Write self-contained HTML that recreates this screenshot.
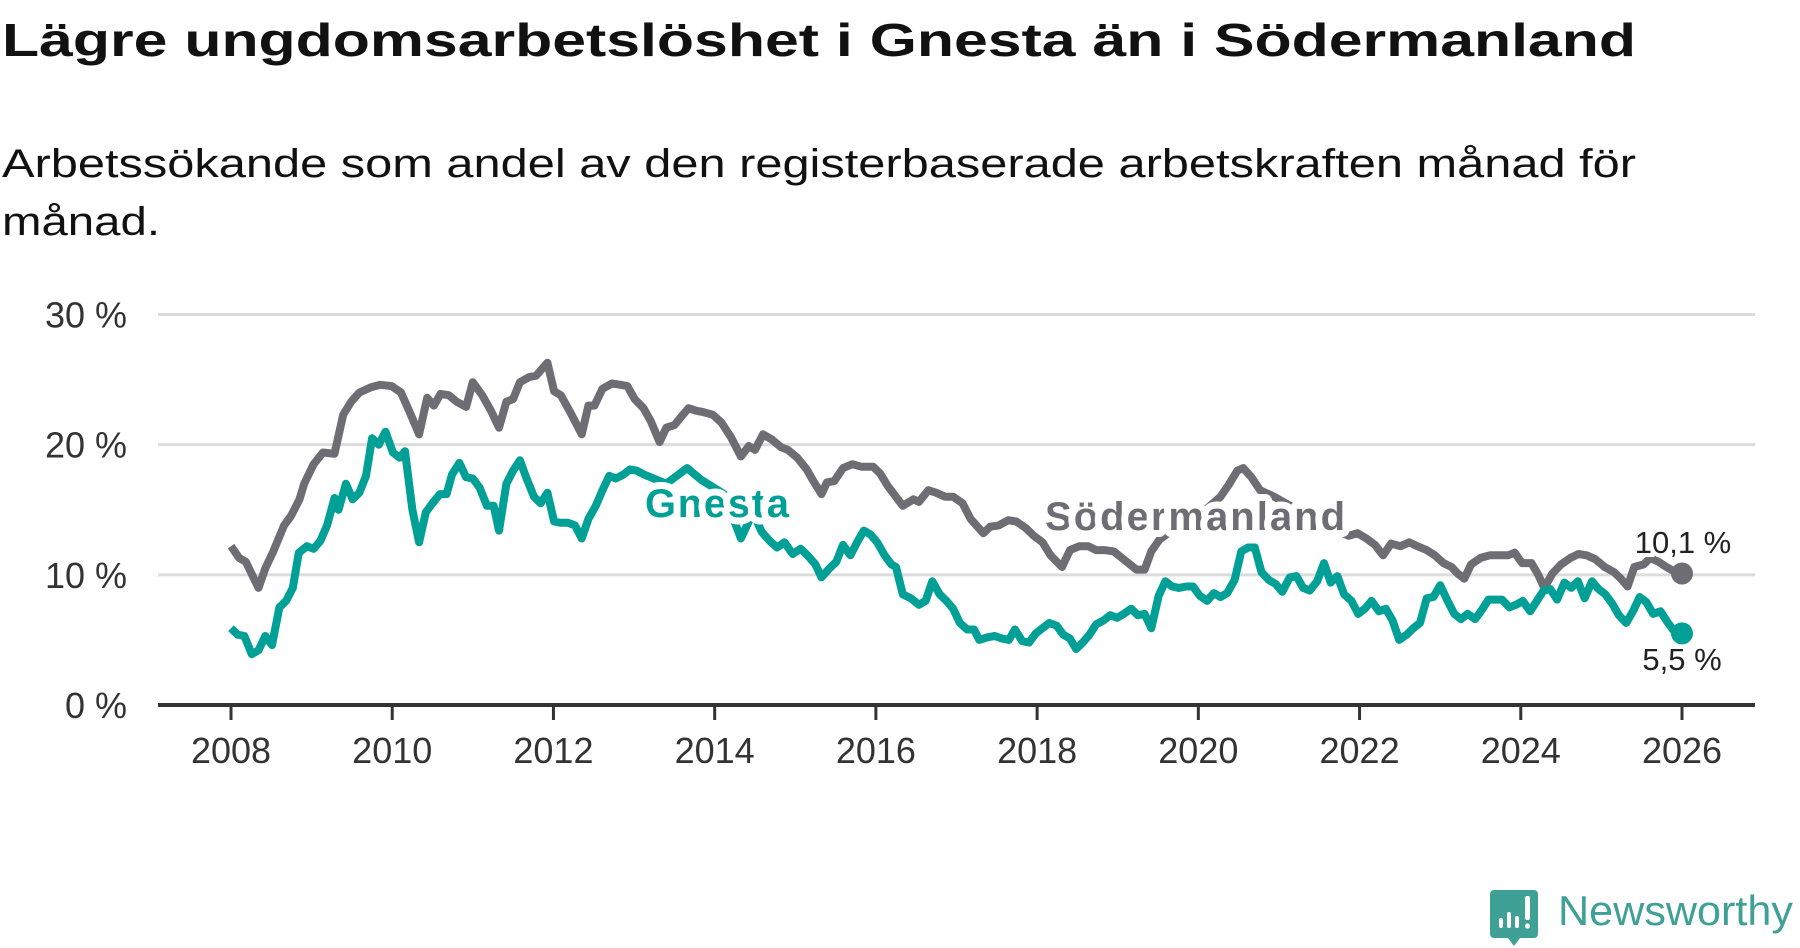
<!DOCTYPE html>
<html><head><meta charset="utf-8">
<style>
html,body{margin:0;padding:0;background:#fff;width:1800px;height:948px;overflow:hidden}
svg{display:block}
text{font-family:"Liberation Sans",sans-serif}
</style></head>
<body>
<svg id="chart" width="1800" height="948" viewBox="0 0 1800 948" xmlns="http://www.w3.org/2000/svg">
<text x="2" y="56" font-size="46" font-weight="bold" fill="#111" textLength="1634" lengthAdjust="spacingAndGlyphs">Lägre ungdomsarbetslöshet i Gnesta än i Södermanland</text>
<text x="2" y="177" font-size="40" fill="#111" textLength="1634" lengthAdjust="spacingAndGlyphs">Arbetssökande som andel av den registerbaserade arbetskraften månad för</text>
<text x="2" y="235" font-size="40" fill="#111" textLength="158" lengthAdjust="spacingAndGlyphs">månad.</text>
<g id="grid"></g>
<g id="series"></g>
<g id="labels"></g>
<g>
<path d="M1494 890 h40 a4 4 0 0 1 4 4 v40 a4 4 0 0 1 -4 4 h-14 l-6 8 l-6 -8 h-14 a4 4 0 0 1 -4 -4 v-40 a4 4 0 0 1 4 -4z" fill="#3fa096"/>
<rect x="1499" y="918" width="4" height="10" rx="2" fill="#fff"/>
<rect x="1507" y="912" width="4" height="16" rx="2" fill="#fff"/>
<rect x="1515" y="916" width="4" height="12" rx="2" fill="#fff"/>
<rect x="1525" y="896" width="5" height="24" rx="2" fill="#fff"/>
<circle cx="1527.5" cy="926" r="2.6" fill="#fff"/>
<text x="1558" y="925" font-size="42" fill="#3fa096" textLength="235" lengthAdjust="spacingAndGlyphs">Newsworthy</text>
</g>
</svg>
<script>
const yTicks = [0, 10, 20, 30];
const yTickLabels = ["0 %", "10 %", "20 %", "30 %"];
const xTicks = [2008, 2010, 2012, 2014, 2016, 2018, 2020, 2022, 2024, 2026];
// month index since Jan 2008
const sodMonths = [0,1.2,2.2,4.1,5.1,6.3,7.9,8.9,10.2,10.9,12.3,13.7,15.4,16.7,17.9,19.1,20.8,22.2,23.9,25.3,26.6,28.0,29.2,30.2,31.2,32.4,33.6,35.0,36.0,37.4,38.7,39.9,41.0,42.0,43.0,44.4,45.4,47.1,48.1,49.1,50.5,51.5,52.2,53.2,54.1,55.3,56.7,58.0,59.0,60.1,61.4,62.5,63.8,64.8,66.0,67.1,68.1,69.3,70.3,71.7,73.0,74.4,75.9,77.1,78.0,79.2,80.5,81.9,82.9,84.3,85.7,86.7,87.9,88.7,89.8,91.1,92.5,93.9,95.6,96.6,97.8,100.0,101.6,102.4,103.8,105.0,106.3,107.5,108.9,110.1,112.0,113.0,114.3,115.7,116.9,118.3,119.5,120.8,122.0,123.7,124.9,126.3,127.6,128.8,130.0,131.4,133.1,134.8,136.0,137.0,138.2,141.6,145.1,147.3,148.5,149.8,150.7,151.9,153.2,155.3,158.7,162.1,166.4,167.7,169.0,170.3,171.5,172.7,174.1,175.4,176.6,178.0,179.2,180.5,181.7,182.6,183.6,184.6,186.0,187.4,188.7,190.1,191.1,192.2,193.6,194.6,195.5,196.7,198.0,199.4,200.6,201.8,203.1,204.5,205.9,206.9,207.9,208.9,210.3,211.3,212.5,213.7,214.7,216.0];
const sodValues = [12.2,11.3,11.0,9.0,10.5,11.8,13.8,14.5,15.8,17.0,18.5,19.4,19.3,22.3,23.3,24.0,24.4,24.6,24.5,24.0,22.5,20.8,23.6,23.0,23.9,23.8,23.3,22.9,24.8,23.8,22.6,21.3,23.3,23.5,24.8,25.2,25.3,26.3,24.1,23.8,22.5,21.5,20.8,23.0,23.0,24.3,24.7,24.6,24.5,23.5,22.8,21.8,20.2,21.3,21.5,22.2,22.8,22.6,22.5,22.3,21.7,20.6,19.1,19.9,19.6,20.8,20.4,19.8,19.6,19.0,18.1,17.2,16.2,17.1,17.2,18.2,18.5,18.3,18.3,17.8,16.8,15.3,15.8,15.6,16.5,16.3,16.0,16.0,15.5,14.3,13.2,13.7,13.8,14.2,14.1,13.6,13.0,12.5,11.5,10.6,11.9,12.2,12.2,11.9,11.9,11.8,11.1,10.4,10.4,11.8,12.7,14.0,15.0,16.0,16.9,18.0,18.2,17.5,16.5,16.0,15.0,14.0,13.0,13.2,12.8,12.3,11.5,12.4,12.2,12.5,12.2,11.9,11.5,10.9,10.6,10.1,9.7,10.8,11.3,11.5,11.5,11.5,11.7,10.9,10.9,10.0,9.0,10.1,10.8,11.3,11.6,11.5,11.2,10.6,10.2,9.7,9.1,10.6,10.8,11.3,11.0,10.6,10.3,10.1];
const gneMonths = [0,1.0,2.0,3.1,4.1,5.1,6.1,7.2,8.2,9.2,10.1,11.3,12.3,13.3,14.3,15.4,16.0,17.1,18.1,19.1,20.1,21.0,22.0,23.0,24.1,25.1,25.9,27.0,28.0,29.0,30.0,31.1,32.1,32.9,34.0,35.0,36.0,37.0,38.1,39.1,39.9,41.0,42.0,43.0,44.0,45.1,46.1,47.1,48.1,49.1,50.2,51.2,52.2,53.2,54.3,55.3,56.3,57.3,58.4,59.4,60.4,61.5,64.8,67.9,70.0,73.4,75.9,77.7,79.0,80.2,81.3,82.4,83.6,84.8,86.0,87.0,87.9,89.1,90.1,91.1,92.2,93.2,94.2,95.2,96.2,97.3,98.3,99.0,100.0,101.2,102.4,103.4,104.4,105.5,106.5,107.5,108.5,109.6,110.6,111.4,112.6,113.7,114.8,115.8,116.7,117.8,118.8,119.8,120.8,121.8,122.9,123.9,124.9,125.8,126.8,127.8,128.8,129.9,130.9,131.9,132.9,134.0,135.0,136.0,137.0,138.1,139.1,140.1,141.1,142.2,143.2,144.2,145.3,146.3,147.3,148.3,149.4,150.4,151.4,152.4,153.4,154.5,155.5,156.5,157.6,158.6,159.6,160.6,161.7,162.7,163.7,164.7,165.7,166.8,167.8,168.8,169.8,170.9,171.9,172.9,173.9,175.0,176.0,177.0,178.0,179.0,180.0,181.1,182.1,183.1,184.1,185.2,186.2,187.2,188.2,189.2,190.3,191.3,192.3,193.4,194.4,195.4,196.4,197.4,198.5,199.5,200.5,201.5,202.6,203.6,204.6,205.6,206.6,207.7,208.7,209.7,210.7,211.7,212.8,213.8,214.8,216.0];
const gneValues = [5.9,5.4,5.3,3.9,4.2,5.3,4.6,7.5,8.0,9.0,11.7,12.2,12.0,12.6,13.8,15.9,15.0,17.0,15.8,16.3,17.6,20.5,20.0,21.0,19.4,19.0,19.5,15.0,12.5,14.8,15.5,16.2,16.2,17.7,18.6,17.5,17.4,16.7,15.3,15.3,13.4,17.0,18.0,18.8,17.4,16.0,15.5,16.3,14.1,14.0,14.0,13.8,12.8,14.3,15.3,16.5,17.6,17.4,17.7,18.1,18.0,17.7,17.0,18.2,17.3,16.2,12.8,14.8,13.3,12.6,12.1,12.5,11.6,12.0,11.4,10.8,9.8,10.5,11.0,12.3,11.5,12.5,13.4,13.1,12.5,11.5,10.8,10.6,8.5,8.2,7.7,8.0,9.5,8.5,8.0,7.4,6.3,5.8,5.8,5.0,5.2,5.3,5.1,5.0,5.8,4.9,4.8,5.5,5.9,6.3,6.1,5.4,5.1,4.3,4.8,5.4,6.2,6.5,6.9,6.7,7.0,7.4,6.9,7.0,5.9,8.4,9.5,9.1,9.0,9.1,9.1,8.4,8.0,8.6,8.3,8.6,9.6,11.8,12.1,12.1,10.2,9.6,9.3,8.7,9.8,9.9,9.0,8.8,9.5,10.9,9.4,9.9,8.5,8.0,7.0,7.4,8.0,7.2,7.4,6.5,5.0,5.4,5.9,6.3,8.2,8.3,9.2,8.0,7.0,6.6,7.0,6.6,7.3,8.1,8.1,8.1,7.5,7.7,8.0,7.2,8.0,8.8,8.9,8.1,9.4,9.0,9.5,8.2,9.5,8.9,8.5,7.8,6.9,6.3,7.2,8.3,7.9,7.0,7.2,6.4,5.7,5.5];

const NS = "http://www.w3.org/2000/svg";
const X0 = 231, X1 = 1682, YZ = 705, YT = 314.5;
function xScale(year) { return X0 + (year - 2008) / 18 * (X1 - X0); }
function xMonth(m) { return xScale(2008 + m / 12); }
function yScale(v) { return YZ - v / 30 * (YZ - YT); }
function mk(tag, attrs, parent) {
  const e = document.createElementNS(NS, tag);
  for (const k in attrs) e.setAttribute(k, attrs[k]);
  parent.appendChild(e); return e;
}
const grid = document.getElementById('grid');
yTicks.forEach((t, i) => {
  if (t !== 0) {
    const l = mk('line', {x1: 158, x2: 1755, y1: yScale(t), y2: yScale(t), stroke: '#dcdcdc', 'stroke-width': 3}, grid);
    
    
  }
  const tx = mk('text', {x: 127, y: yScale(t) + 13, 'font-size': 36, fill: '#333', 'text-anchor': 'end'}, grid);
  tx.textContent = yTickLabels[i];
  
  
});
const ax = mk('line', {x1: 158, x2: 1755, y1: YZ, y2: YZ, stroke: '#333', 'stroke-width': 4}, grid);


xTicks.forEach(t => {
  const tk = mk('line', {x1: xScale(t), x2: xScale(t), y1: YZ, y2: 720, stroke: '#333', 'stroke-width': 3}, grid);
  
  
  const tx = mk('text', {x: xScale(t), y: 763, 'font-size': 36, fill: '#333', 'text-anchor': 'middle'}, grid);
  tx.textContent = t;
  
  
});
const series = document.getElementById('series');
function path(ms, vs) { return ms.map((m, i) => (i ? 'L' : 'M') + xMonth(m).toFixed(1) + ' ' + yScale(vs[i]).toFixed(1)).join(' '); }
const pS = mk('path', {d: path(sodMonths, sodValues), fill: 'none', stroke: '#6e6d73', 'stroke-width': 8, 'stroke-linejoin': 'round'}, series);


const pG = mk('path', {d: path(gneMonths, gneValues), fill: 'none', stroke: '#00a096', 'stroke-width': 8, 'stroke-linejoin': 'round'}, series);


const lastS = sodValues[sodValues.length - 1], lastG = gneValues[gneValues.length - 1];
const dS = mk('circle', {cx: xMonth(sodMonths[sodMonths.length - 1]), cy: yScale(lastS), r: 11, fill: '#6e6d73'}, series);


const dG = mk('circle', {cx: xMonth(gneMonths[gneMonths.length - 1]), cy: yScale(lastG), r: 11, fill: '#00a096'}, series);


const labels = document.getElementById('labels');
function halo(x, y, txt, fill, size, name, anchor) {
  const a = mk('text', {x: x, y: y, 'font-size': size, 'font-weight': 'bold', fill: fill, stroke: '#fff', 'stroke-width': 14, 'stroke-linejoin': 'round', 'paint-order': 'stroke', 'text-anchor': anchor || 'start'}, labels);
  a.textContent = txt;
  
  
  return a;
}
halo(645, 517, 'Gnesta', '#00a096', 40, 'gnesta-label').setAttribute('textLength', 144);
halo(1045, 530, 'Södermanland', '#6e6d73', 40, 'sodermanland-label').setAttribute('textLength', 300);
function endLbl(x, y, txt, name) {
  const a = mk('text', {x: x, y: y, 'font-size': 31, fill: '#222', stroke: '#fff', 'stroke-width': 8, 'paint-order': 'stroke', 'text-anchor': 'middle'}, labels);
  a.textContent = txt;
  
  
}
endLbl(1683, 553, lastS.toFixed(1).replace('.', ',') + ' %', 'sodermanland-end-value');
endLbl(1682, 670, lastG.toFixed(1).replace('.', ',') + ' %', 'gnesta-end-value');
</script>
</body></html>
